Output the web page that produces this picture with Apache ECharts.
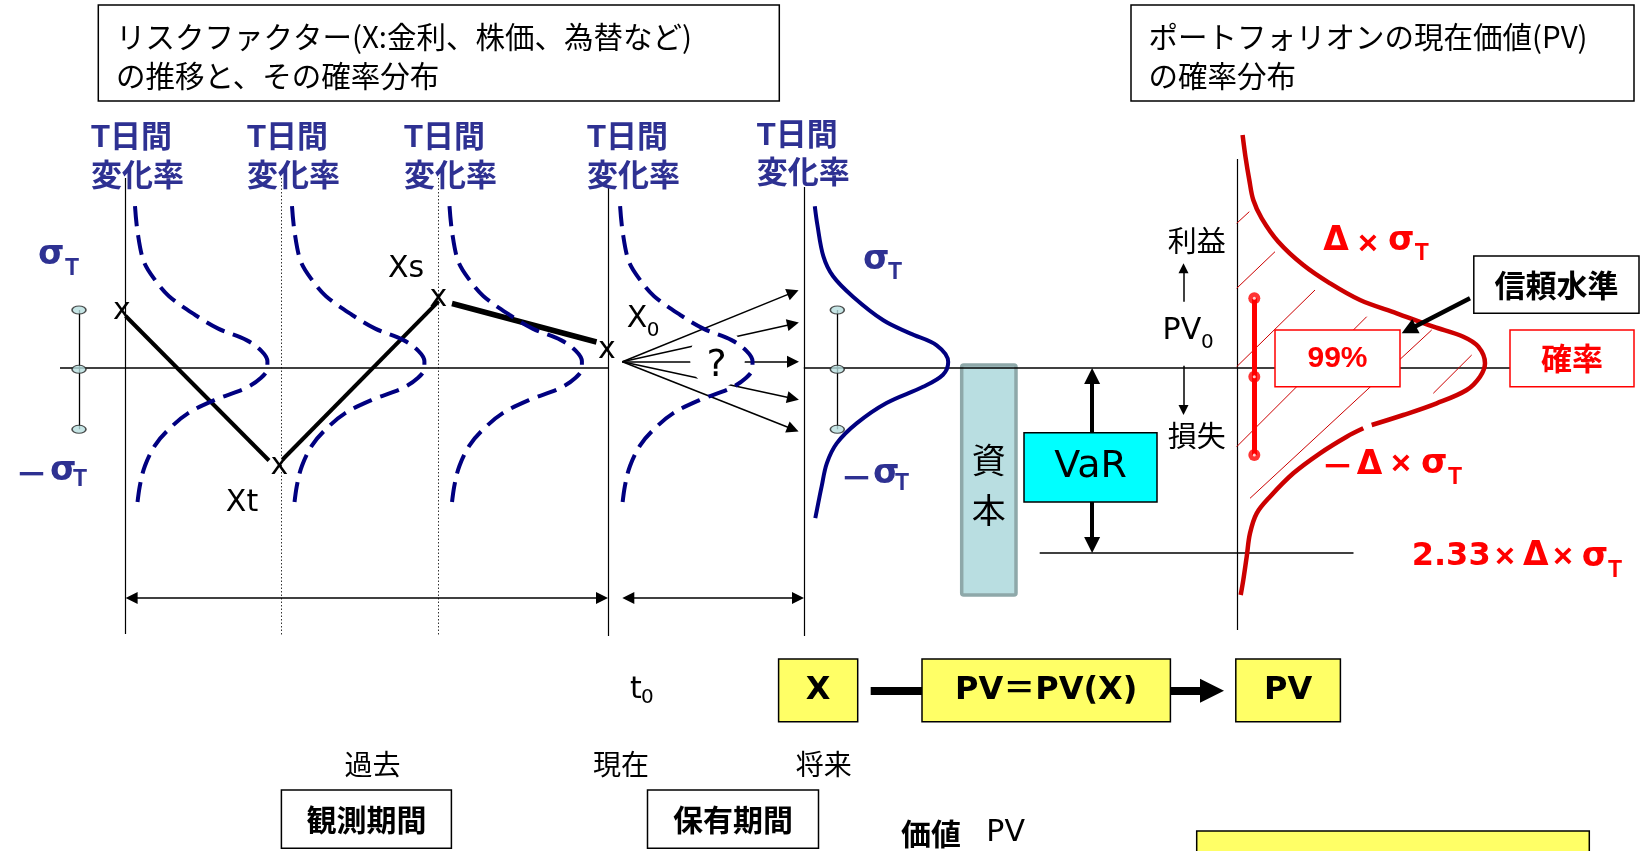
<!DOCTYPE html>
<html><head><meta charset="utf-8">
<script src="https://cdn.jsdelivr.net/npm/echarts@6/dist/echarts.min.js"></script>
<style>html,body{margin:0;padding:0;background:#fff}#c{width:1641px;height:851px}</style>
</head><body><div id="c"></div><script>
// ---------- diagram data (pixel units of the 1641x851 picture) ----------
const solidGuides  = [[[125.6,178],[125.6,634]],[[608,188],[608,636]],[[803.8,187],[803.8,636]],[[1237,159],[1237,630]]];
const dottedGuides = [[[281.5,178],[281.5,636]],[[438.5,178],[438.5,636]]];
const baseAxis     = [[[60,368],[608,368]],[[803.8,368],[1510,368]]];
const varFloor     = [[[1039.7,552.7],[1353.5,552.7]]];
const sigmaBars    = [[[79,310],[79,429.3]],[[837.3,310],[837.3,429.3]]];
const sigmaMarks   = [[79,310],[79,369.3],[79,429.3],[837.3,310],[837.3,369.3],[837.3,429.3]];
const pathSegments = [[[125.6,316],[269,460.5]],[[282.6,459.5],[438.5,301.4]]];
const lastSegment  = [[[452,303.5],[596.5,342]]];
const pathPoints   = [[122,313],[279.4,468],[438.5,300.4],[607,352.7]];
const dashedShape  = [[620.1,206.2],[622.7,232.3],[629,261.7],[640.5,280.5],[654.1,296.2],[680.3,315],[703.3,328.6],[731.6,340.1],[746.2,350.6],[752.5,361.1],[752.5,368.4],[746.2,377.8],[730.5,388.3],[700.2,399.8],[673,413.4],[654.1,429.1],[640.5,444.8],[630.1,465.7],[624.8,486.7],[621.7,510.7]];
const dashedShifts = [-485.1,-328.1,-170.6,0];
const futureCurve  = [[814.8,206.2],[817.4,225],[823.4,256.4],[833.1,276.3],[853,296.7],[883.3,320.3],[910,333.4],[936.7,345.4],[948.2,362.1],[943,374.7],[923.1,386.8],[886.5,403],[856.6,423.4],[836.7,443.4],[826.8,463.4],[821.6,486.7],[818.4,502.4],[815.3,518.1]];
const pvCurveUpper = [[1242.6,135],[1245.5,157],[1249.3,180],[1253.3,200],[1261.7,218.3],[1278.3,241.7],[1303.3,265],[1330,283.3],[1360,300],[1396.7,313.3],[1433.3,326.7],[1463.3,336.7],[1478.3,346.7],[1485,363.3],[1480,376.7],[1466.7,390],[1436.7,403.3],[1403.3,415],[1371.7,425]];
const pvCurveLower = [[1363.3,428.3],[1346.7,436.7],[1320,453.3],[1293.3,473.3],[1270,496.7],[1256.7,513.3],[1250,533.3],[1246.7,556.7],[1243.3,580],[1240.7,595]];
const hatchLines   = [[[1236.7,223.3],[1249.3,211.7]],[[1236.7,288.3],[1275,251.7]],[[1236.7,366.7],[1315,290]],[[1236.7,446.7],[1366.7,316.7]],[[1250,498.3],[1431.7,330]],[[1433.3,393.3],[1471.7,355]]];
const confBar      = [[[1254.3,298.3],[1254.3,455]]];
const confMarks    = [[1254.3,298.3],[1254.3,376.7],[1254.3,455]];
const fanArrows    = [[[622.4,361.7],[793,292.4]],[[622.4,361.7],[793,323.9]],[[622.4,361.7],[793,361.7]],[[622.4,361.7],[793,398.5]],[[622.4,361.7],[793,429.2]]];
const spanArrows   = [[[131.6,598],[602,598]],[[628.3,598],[798,598]]];
const varArrow     = [[[1092.1,376],[1092.1,545]]];
const pvArrows     = [[[1183.5,301.7],[1183.5,268.3]],[[1183.5,365.7],[1183.5,410]]];
const levelArrow   = [[[1470,298.3],[1408.8,329.7]]];
const flowLine     = [[[870.7,690.8],[922,690.8]]];
const flowArrow    = [[[1170.4,690.8],[1212,690.8]]];
const tLabelX      = [91,247,404,587,756.7];
const tLabelY1     = [138,138,138,138,136];
const tLabelY2     = [177.5,177.5,177.5,177.5,174];

// ---------- helpers ----------
const CJK = '"Noto Sans CJK JP", sans-serif';
const DJ  = '"DejaVu Sans", "Noto Sans CJK JP"';
const LS  = '"Liberation Sans", "Noto Sans CJK JP"';
const BLUE = '#2E3192', NAVY = '#000080', RED = '#FF0000', DRED = '#CC0000';

function T(x, y, text, size, o = {}) {
  return { type: 'text', z: o.z ?? 100, silent: true,
    style: { x, y, text, fill: o.color || '#000', fontSize: size, fontWeight: o.weight || 'normal',
      fontFamily: o.family || CJK, align: o.align || 'left', verticalAlign: 'middle' } };
}
function R(x1, y1, x2, y2, fill, stroke, lw, z = 100, r = 0) {
  return { type: 'rect', z, silent: true, shape: { x: x1, y: y1, width: x2 - x1, height: y2 - y1, r },
    style: { fill, stroke, lineWidth: lw } };
}
function L(data, color, width, extra = {}) {
  return Object.assign({ type: 'lines', coordinateSystem: 'cartesian2d', silent: true, z: 2,
    data: data.map(c => ({ coords: c })), symbol: 'none',
    lineStyle: { color, width, opacity: 1, type: extra.dash || 'solid' } }, extra);
}
function C(data, color, width, extra = {}) {
  return Object.assign({ type: 'line', data, symbol: 'none', silent: true, smooth: 0.35, z: 4,
    lineStyle: { color, width, type: extra.dash || 'solid', cap: 'butt' } }, extra);
}

const series = [
  L(solidGuides, '#000', 1.2),
  L(dottedGuides, '#333', 1, { dash: [1.5, 2] }),
  L(baseAxis, '#000', 1.5),
  L(varFloor, '#000', 1.5),
  L(sigmaBars, '#000', 1.3),
  L(pathSegments, '#000', 4),
  L(lastSegment, '#000', 5.5),
  L(fanArrows, '#000', 1.5, { symbol: ['none', 'triangle'], symbolSize: 12 }),
  L(spanArrows, '#000', 1.5, { symbol: ['triangle', 'triangle'], symbolSize: 12 }),
  L(varArrow, '#000', 4, { symbol: ['triangle', 'triangle'], symbolSize: 16 }),
  L(pvArrows, '#000', 1.5, { symbol: ['none', 'triangle'], symbolSize: 10 }),
  L(hatchLines, DRED, 1),
  L(confBar, RED, 5),
  L(levelArrow, '#000', 4.5, { symbol: ['none', 'triangle'], symbolSize: 16, z: 8 }),
  L(flowLine, '#000', 8),
  L(flowArrow, '#000', 8, { symbol: ['none', 'triangle'], symbolSize: 24 }),
  ...dashedShifts.map(s => C(dashedShape.map(p => [p[0] + s, p[1]]), NAVY, 4, { dash: [20, 9], z: 5 })),
  C(futureCurve, NAVY, 4),
  C(pvCurveUpper, DRED, 4.5),
  C(pvCurveLower, DRED, 4.5),
  { type: 'scatter', data: sigmaMarks, symbol: 'circle', symbolSize: [14, 8], silent: true, z: 6,
    itemStyle: { color: '#B8DEDE', borderColor: '#222', borderWidth: 1.2 } },
  { type: 'scatter', data: confMarks, symbol: 'circle', symbolSize: 12, silent: true, z: 6,
    itemStyle: { color: RED } },
  { type: 'scatter', data: confMarks, symbol: 'circle', symbolSize: 3, silent: true, z: 7,
    itemStyle: { color: '#fff' } },
  { type: 'scatter', data: pathPoints, symbolSize: 2, silent: true, z: 7,
    itemStyle: { color: 'rgba(0,0,0,0)' },
    label: { show: true, formatter: 'x', position: 'inside', offset: [0, -2], opacity: 1,
      fontFamily: '"DejaVu Sans"', fontSize: 30, color: '#000' } }
];

const g = [];
// title boxes
g.push(R(98.3, 5, 779.3, 101, '#fff', '#000', 1.5));
g.push(T(116, 36.7, 'リスクファクター(X:金利、株価、為替など)', 29.5));
g.push(T(116, 75.7, 'の推移と、その確率分布', 29.5));
g.push(R(1131, 5, 1634, 101, '#fff', '#000', 1.5));
g.push(T(1148.5, 36.7, 'ポートフォリオンの現在価値(PV)', 29.5));
g.push(T(1148.5, 75.7, 'の確率分布', 29.5));
// T日間 / 変化率
tLabelX.forEach((x, i) => {
  g.push(T(x, tLabelY1[i], 'T日間', 31, { color: BLUE, weight: 'bold', family: LS }));
  g.push(T(x, tLabelY2[i], '変化率', 31, { color: BLUE, weight: 'bold', family: LS }));
});
// sigma labels
const sig = (x, y) => T(x, y - 2.5, 'σ', 34, { color: BLUE, weight: 'bold', family: DJ });
const sub = (x, y, c) => T(x, y, 'T', 23, { color: c, weight: 'bold', family: LS });
const minus = (x, y, c) => T(x, y, '－', 33, { color: c, weight: 'bold', family: CJK });
g.push(sig(38, 257.5), sub(65, 268.3, BLUE));
g.push(minus(15, 473.3, BLUE), sig(50, 473.3), sub(73, 480, BLUE));
g.push(sig(863, 263), sub(888, 272.5, BLUE));
g.push(minus(840, 477, BLUE), sig(873, 477), sub(895, 484, BLUE));
// path labels
g.push(T(406, 269, 'Xs', 30, { family: DJ, align: 'center' }));
g.push(T(242, 503, 'Xt', 30, { family: DJ, align: 'center' }));
g.push(T(626.7, 319, 'X', 30, { family: DJ }), T(646.7, 330.3, '0', 20, { family: DJ }));
// question mark
g.push({ type: 'ellipse', z: 3, silent: true, shape: { cx: 717.5, cy: 357.5, rx: 27.5, ry: 30.5 }, style: { fill: '#fff' } });
g.push(T(716.5, 365.7, '?', 38, { family: DJ, align: 'center' }));
// time axis captions
g.push(T(630, 690, 't', 30, { family: DJ }), T(641, 697.5, '0', 20, { family: DJ }));
g.push(T(372.6, 764, '過去', 28, { align: 'center' }));
g.push(T(621, 764, '現在', 28, { align: 'center' }));
g.push(T(823.7, 764, '将来', 28, { align: 'center' }));
g.push(R(281.4, 790, 451.4, 848.3, '#fff', '#000', 1.5));
g.push(T(366.4, 819.2, '観測期間', 30, { weight: 'bold', align: 'center' }));
g.push(R(647.5, 790, 818.5, 848.3, '#fff', '#000', 1.5));
g.push(T(733, 819.2, '保有期間', 30, { weight: 'bold', align: 'center' }));
// yellow flow boxes
const YEL = '#FFFF66';
g.push(R(778.6, 659, 857.7, 721.7, YEL, '#000', 1.5));
g.push(T(818.2, 690.8, 'X', 32, { weight: 'bold', family: DJ, align: 'center' }));
g.push(R(922, 659, 1170.4, 721.7, YEL, '#000', 1.5));
g.push(T(1046.2, 690.8, 'PV＝PV(X)', 32, { weight: 'bold', family: DJ, align: 'center' }));
g.push(R(1235.8, 659, 1340.4, 721.7, YEL, '#000', 1.5));
g.push(T(1288.1, 690.8, 'PV', 32, { weight: 'bold', family: DJ, align: 'center' }));
g.push(R(1196.7, 831, 1589.3, 870, YEL, '#000', 1.5));
g.push(T(901, 833.3, '価値', 30, { weight: 'bold' }), T(986.3, 833.3, 'PV', 30, { family: DJ }));
// capital / VaR
g.push(R(961.7, 365, 1016, 595, '#B9DEE1', '#8EA8A9', 3.5, 1, 2));
g.push(T(988.8, 460, '資', 34, { align: 'center' }), T(988.8, 510, '本', 34, { align: 'center' }));
g.push(R(1024, 432.7, 1157, 502, '#00FFFF', '#000', 1.5));
g.push(T(1090.5, 467.3, 'VaR', 38, { family: DJ, align: 'center' }));
// profit / loss
g.push(T(1196.8, 240.5, '利益', 29, { align: 'center' }));
g.push(T(1162.6, 331.7, 'PV', 30, { family: DJ }), T(1201, 342.5, '0', 20, { family: DJ }));
g.push(T(1196.8, 436, '損失', 29, { align: 'center' }));
// red annotations
g.push(R(1275, 330, 1400, 386.7, '#fff', RED, 1.5));
g.push(T(1337.5, 358.3, '99%', 30, { weight: 'bold', family: LS, color: RED, align: 'center' }));
g.push(R(1510, 330, 1634, 386.7, '#fff', RED, 1.5));
g.push(T(1572, 358.3, '確率', 31, { weight: 'bold', color: RED, align: 'center' }));
g.push(R(1473.8, 256, 1639, 313.3, '#fff', '#000', 1.5));
g.push(T(1556.4, 285, '信頼水準', 31, { weight: 'bold', align: 'center' }));
const rd = (x, y, t, s, fam) => T(x, y, t, s, { color: RED, weight: 'bold', family: fam });
const rsig = (x, y) => T(x, y - 2.5, 'σ', 34, { color: RED, weight: 'bold', family: DJ });
g.push(rd(1323.3, 241.7, 'Δ', 33, DJ), rd(1358, 245, '×', 34, LS), rsig(1388, 244), sub(1414.7, 254, RED));
g.push(minus(1321, 465.5, RED), rd(1356.7, 465.8, 'Δ', 33, DJ), rd(1391, 464.5, '×', 34, LS), rsig(1421, 467), sub(1448, 477.5, RED));
g.push(rd(1411.7, 556.7, '2.33', 32, DJ), rd(1495, 558, '×', 34, LS), rd(1523, 556.7, 'Δ', 33, DJ), rd(1553, 558, '×', 34, LS), rsig(1581.7, 560), sub(1608, 570.8, RED));

const chart = echarts.init(document.getElementById('c'), null, { renderer: 'canvas' });
chart.setOption({
  animation: false,
  backgroundColor: '#fff',
  grid: { left: 0, right: 0, top: 0, bottom: 0, containLabel: false },
  xAxis: { type: 'value', min: 0, max: 1641, show: false },
  yAxis: { type: 'value', min: 0, max: 851, inverse: true, show: false },
  series,
  graphic: g
});
</script></body></html>
